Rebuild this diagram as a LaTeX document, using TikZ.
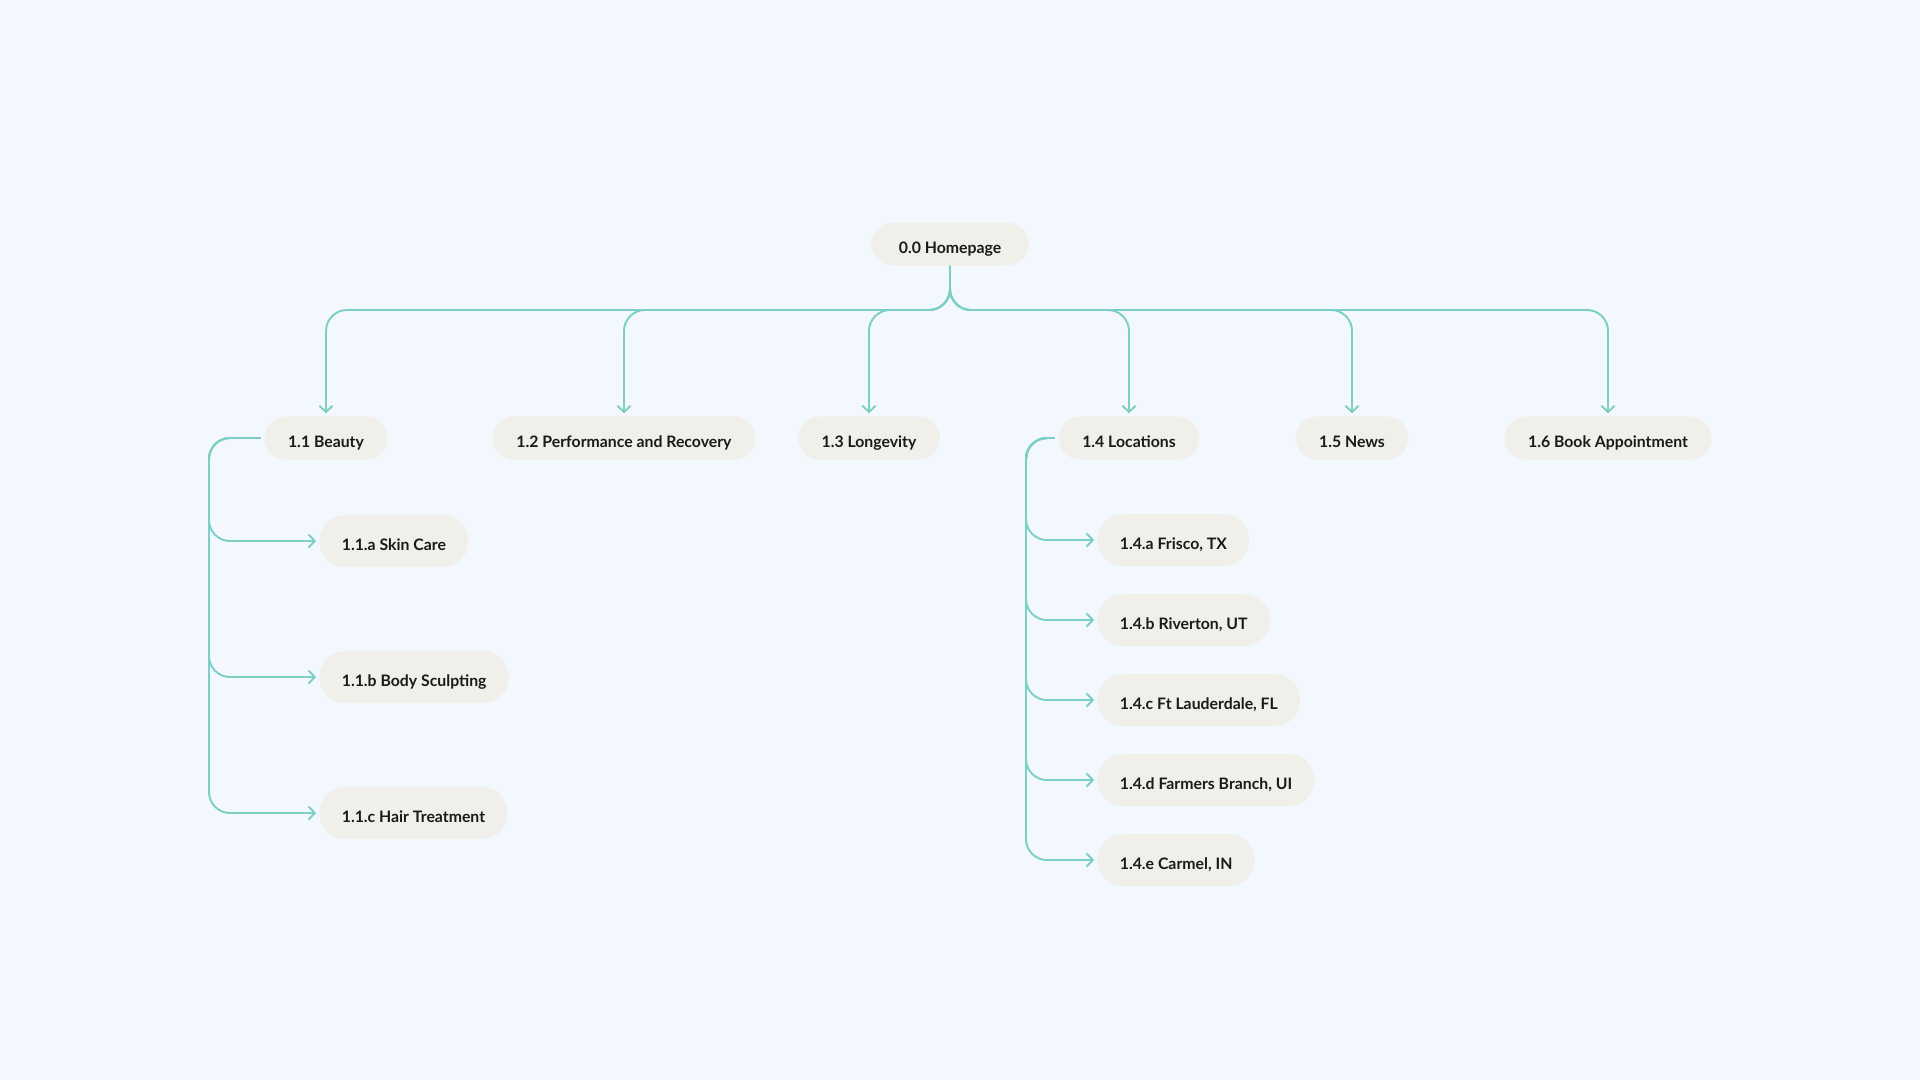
\documentclass[tikz,border=0pt]{standalone}
\usepackage{fontspec}
\setmainfont{Lato}
\usepackage{tikz}
\usetikzlibrary{arrows.meta,positioning}
\definecolor{bgblue}{HTML}{F3F8FE}
\definecolor{pill}{HTML}{F0EFEA}
\definecolor{teal}{HTML}{7DCFC6}
\definecolor{ink}{HTML}{1A1A1A}
\tikzset{
  page/.style={rectangle, rounded corners=0.43cm, fill=pill, text=ink,
    minimum height=0.86cm, inner xsep=0.47cm, text height=11pt, text depth=0pt,
    font=\fontsize{9}{11}\selectfont\bfseries},
  subpage/.style={page, rounded corners=0.52cm, minimum height=1.04cm, inner xsep=0.45cm},
  link/.style={draw=teal, line width=1.1pt, rounded corners=0.42cm},
  arr/.style={link, -{Straight Barb[length=3.6pt,width=7.5pt,line width=1.1pt]}, shorten >=1.6pt}
}

\begin{document}
\begin{tikzpicture}[x=0.02cm, y=-0.02cm]
% background
\fill[bgblue] (0,0) rectangle (1920,1080);
\useasboundingbox (0,0) rectangle (1920,1080);

% top level
\node[page, inner xsep=0.55cm] (home) at (950,244) {0.0 Homepage};
\coordinate (bus) at (950,310);

% main sections
\node[page] (beauty) at (326,438) {1.1 Beauty};
\node[page] (perf) at (624,438) {1.2 Performance and Recovery};
\node[page] (longevity) at (869,438) {1.3 Longevity};
\node[page] (locations) at (1129,438) {1.4 Locations};
\node[page] (news) at (1352,438) {1.5 News};
\node[page] (book) at (1608,438) {1.6 Book Appointment};
\foreach \sec in {beauty, perf, longevity, locations, news, book} {
  \draw[arr] (home.south) -- (bus) -| (\sec.north);
}

% beauty pages
\coordinate (beautyspine) at (209,438);
\foreach \id/\y/\txt in {a/541/{1.1.a Skin Care}, b/677/{1.1.b Body Sculpting}, c/813/{1.1.c Hair Treatment}} {
  \node[subpage, anchor=west] (beauty\id) at (319,\y) {\txt};
  \draw[arr, shorten <=2pt] (beauty.west) -- (beautyspine) |- (beauty\id.west);
}

% location pages
\coordinate (locspine) at (1026,438);
\foreach \id/\y/\txt in {a/540/{1.4.a Frisco, TX}, b/620/{1.4.b Riverton, UT}, c/700/{1.4.c Ft Lauderdale, FL}, d/780/{1.4.d Farmers Branch, UI}, e/860/{1.4.e Carmel, IN}} {
  \node[subpage, anchor=west] (loc\id) at (1097,\y) {\txt};
  \draw[arr, shorten <=2pt] (locations.west) -- (locspine) |- (loc\id.west);
}
\end{tikzpicture}
\end{document}
